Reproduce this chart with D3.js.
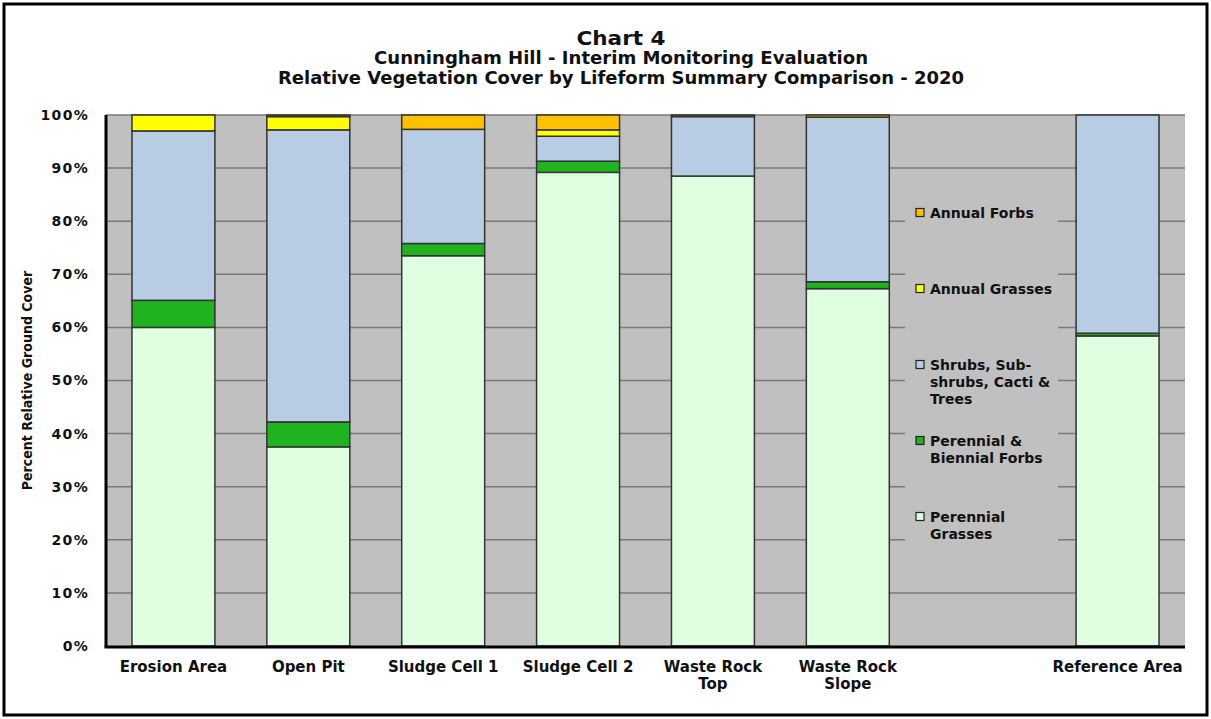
<!DOCTYPE html>
<html>
<head>
<meta charset="utf-8">
<script src="https://cdn.jsdelivr.net/npm/d3@7"></script>
<style>
  html, body { margin: 0; padding: 0; background: #ffffff; }
  svg { display: block; }
  text { font-family: "DejaVu Sans", Verdana, sans-serif; font-weight: bold; fill: #111; }
</style>
</head>
<body>
<svg id="chart" width="1211" height="719"></svg>
<script>
// Sites along the x axis (the blank slot leaves room for the legend)
const categories = ["Erosion Area", "Open Pit", "Sludge Cell 1", "Sludge Cell 2",
                    "Waste Rock Top", "Waste Rock Slope", "", "Reference Area"];
const categoryLines = [["Erosion Area"], ["Open Pit"], ["Sludge Cell 1"], ["Sludge Cell 2"],
                       ["Waste Rock", "Top"], ["Waste Rock", "Slope"], [""], ["Reference Area"]];

// Relative cover (%) by lifeform, stacked bottom to top
const perennialGrasses = [60.0, 37.5, 73.5, 89.2, 88.5, 67.3, null, 58.4];
const perennialForbs   = [5.1,  4.7,  2.3,  2.1,  0.0,  1.3,  null, 0.5];
const shrubs           = [31.9, 55.0, 21.5, 4.7,  11.2, 31.0, null, 41.1];
const annualGrasses    = [3.0,  2.5,  0.0,  1.2,  0.0,  0.0,  null, 0.0];
const annualForbs      = [0.0,  0.3,  2.7,  2.8,  0.3,  0.4,  null, 0.0];

const seriesNames = ["Perennial Grasses", "Perennial & Biennial Forbs",
                     "Shrubs, Sub-shrubs, Cacti & Trees", "Annual Grasses", "Annual Forbs"];
const legendLines = [["Perennial", "Grasses"], ["Perennial &", "Biennial Forbs"],
                     ["Shrubs, Sub-", "shrubs, Cacti &", "Trees"], ["Annual Grasses"], ["Annual Forbs"]];
const seriesValues = [perennialGrasses, perennialForbs, shrubs, annualGrasses, annualForbs];
const seriesColors = ["#e0ffe0", "#1fb31f", "#b8cce4", "#ffff00", "#ffc000"];

const yTicks = [0, 10, 20, 30, 40, 50, 60, 70, 80, 90, 100];
const titleLines = ["Chart 4",
                    "Cunningham Hill - Interim Monitoring Evaluation",
                    "Relative Vegetation Cover by Lifeform Summary Comparison - 2020"];

const svg = d3.select("#chart");
const W = 1211, H = 719;
const plot = { left: 106, right: 1185, top: 115, bottom: 646 };

// outer frame
svg.append("rect")
  .attr("x", 4).attr("y", 4).attr("width", W - 8).attr("height", H - 8)
  .attr("fill", "#fff").attr("stroke", "#000").attr("stroke-width", 3);

// titles, fitted to fixed line widths
const titleSizes = [20, 17, 17];
const titleY = [45, 64, 84];
const titleWidths = [89, 494, 686];
titleLines.forEach((t, i) => {
  svg.append("text")
    .attr("x", 621).attr("y", titleY[i])
    .attr("text-anchor", "middle")
    .attr("textLength", titleWidths[i])
    .attr("lengthAdjust", "spacingAndGlyphs")
    .style("font-size", titleSizes[i] + "px")
    .text(t);
});

const x = d3.scaleBand()
  .domain(d3.range(categories.length))
  .range([plot.left, plot.right])
  .paddingInner(0.385)
  .paddingOuter(0.1925);

const y = d3.scaleLinear().domain([0, 100]).range([plot.bottom, plot.top]);

// plot background
svg.append("rect")
  .attr("x", plot.left).attr("y", plot.top)
  .attr("width", plot.right - plot.left).attr("height", plot.bottom - plot.top)
  .attr("fill", "#c0c0c0");

// gridlines
svg.append("g").selectAll("line")
  .data(yTicks.filter(d => d > 0))
  .join("line")
  .attr("x1", plot.left).attr("x2", plot.right)
  .attr("y1", d => y(d)).attr("y2", d => y(d))
  .attr("stroke", "#7a7a7a").attr("stroke-width", 1.5);

// stacked bars
const rows = categories.map((c, i) => {
  const r = { idx: i };
  seriesNames.forEach((s, k) => { r[s] = seriesValues[k][i]; });
  return r;
}).filter(r => r[seriesNames[0]] !== null);

const stack = d3.stack().keys(seriesNames);
const stacked = stack(rows);

const barG = svg.append("g");
stacked.forEach((layer, k) => {
  barG.append("g").selectAll("rect")
    .data(layer.filter(d => d[1] - d[0] > 0))
    .join("rect")
    .attr("x", d => x(d.data.idx))
    .attr("width", x.bandwidth())
    .attr("y", d => y(d[1]))
    .attr("height", d => y(d[0]) - y(d[1]))
    .attr("fill", seriesColors[k])
    .attr("stroke", "#333")
    .attr("stroke-width", 1.5);
});

// legend (drawn over the plot, in the blank slot)
const lg = svg.append("g");
lg.append("rect")
  .attr("x", 905).attr("y", 176).attr("width", 153).attr("height", 408)
  .attr("fill", "#c0c0c0");
const legendTop = [213, 289, 365, 441, 517];
const order = [4, 3, 2, 1, 0];
order.forEach((k, j) => {
  const cy = legendTop[j];
  lg.append("rect")
    .attr("x", 916).attr("y", cy - 4.5).attr("width", 8).attr("height", 8)
    .attr("fill", seriesColors[k]).attr("stroke", "#222").attr("stroke-width", 1.2);
  legendLines[k].forEach((ln, m) => {
    lg.append("text")
      .attr("x", 930).attr("y", cy + m * 17)
      .attr("dy", "0.35em")
      .style("font-size", "14px")
      .text(ln);
  });
});

// y axis
const yAxis = d3.axisLeft(y).tickValues(yTicks).tickSize(0).tickPadding(17)
  .tickFormat(d => d + "%");
const yg = svg.append("g").attr("transform", `translate(${plot.left},0)`).call(yAxis);
yg.select(".domain").remove();
yg.selectAll("text")
  .style("font-family", "'DejaVu Sans', sans-serif")
  .style("font-size", "14px")
  .style("letter-spacing", "1.3px")
  .attr("fill", "#111");

// x axis
const xAxis = d3.axisBottom(x).tickSize(0).tickFormat(() => "");
const xg = svg.append("g").attr("transform", `translate(0,${plot.bottom})`).call(xAxis);
xg.select(".domain").remove();
xg.selectAll(".tick").each(function(d) {
  const t = d3.select(this).append("text")
    .attr("text-anchor", "middle")
    .attr("fill", "#111")
    .style("font-size", "15px");
  categoryLines[d].forEach((ln, m) => {
    t.append("tspan").attr("x", 0).attr("y", 26 + m * 17).text(ln);
  });
});

// axis lines
svg.append("line")
  .attr("x1", plot.left).attr("x2", plot.left)
  .attr("y1", plot.top).attr("y2", plot.bottom + 1)
  .attr("stroke", "#000").attr("stroke-width", 3);
svg.append("line")
  .attr("x1", plot.left - 1.5).attr("x2", plot.right)
  .attr("y1", plot.bottom + 1).attr("y2", plot.bottom + 1)
  .attr("stroke", "#000").attr("stroke-width", 3);

// y axis title
svg.append("text")
  .attr("transform", `translate(27,${(plot.top + plot.bottom) / 2}) rotate(-90)`)
  .attr("text-anchor", "middle")
  .attr("dy", "0.35em")
  .style("font-family", "'Liberation Sans Narrow', 'DejaVu Sans Condensed', sans-serif")
  .style("font-size", "14px")
  .text("Percent Relative Ground Cover");
</script>
</body>
</html>
